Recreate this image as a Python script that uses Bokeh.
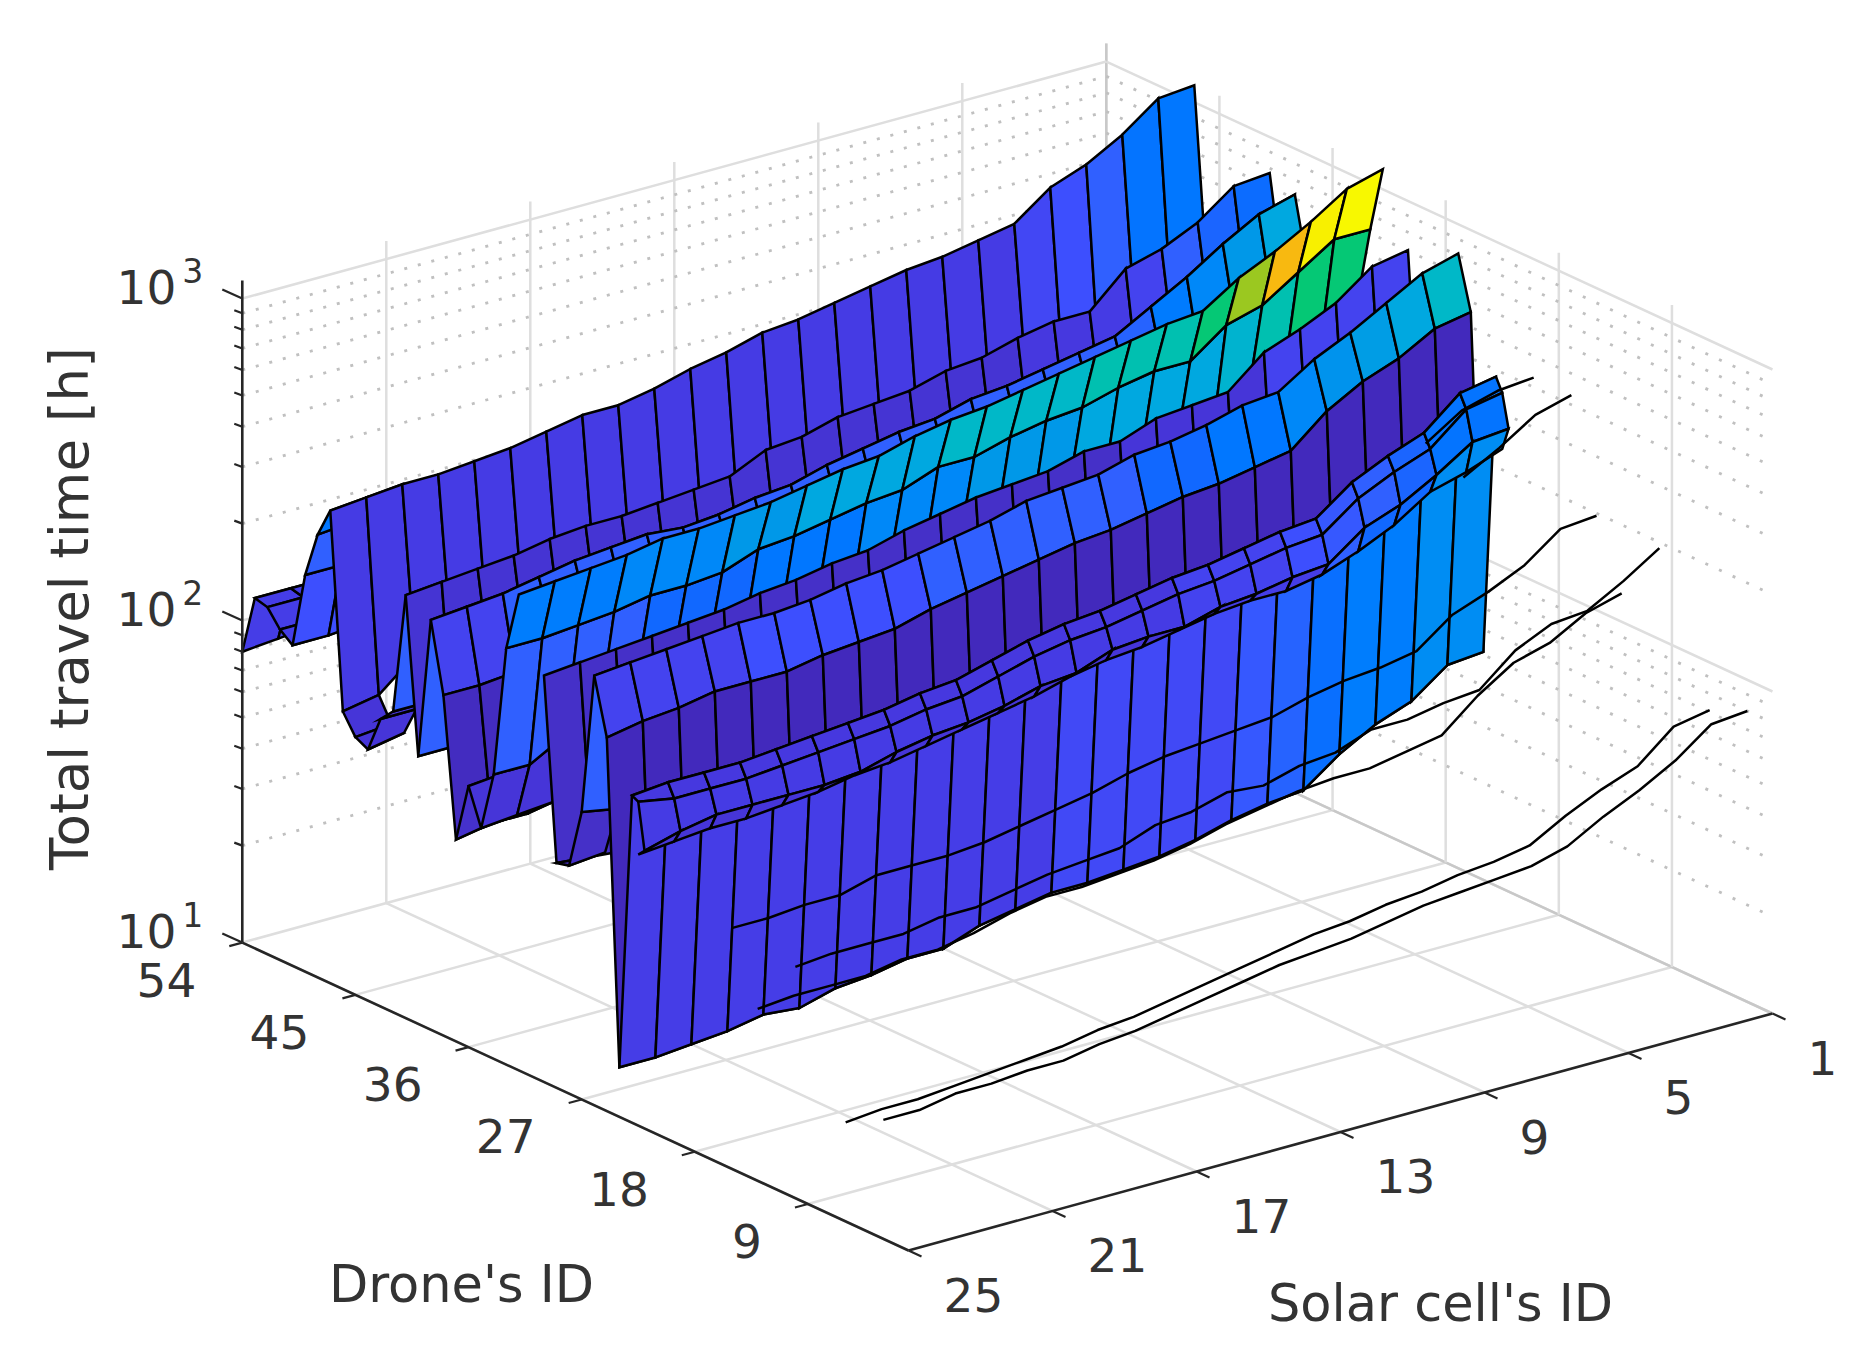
from math import pi, log10
import numpy as np
from bokeh.core.properties import value
from bokeh.embed import file_html
from bokeh.models import ColumnDataSource, LinearColorMapper
from bokeh.plotting import figure
from bokeh.resources import INLINE

_ = float("nan")
cell_ids = list(range(25, 0, -1))
cell_ticks = [25, 21, 17, 13, 9, 5, 1]
drone_ticks = [54, 45, 36, 27, 18, 9]
z_ticks = [10, 100, 1000]
z_labels = ["10", "10", "10"]
z_exps = ["1", "2", "3"]
xlabel_cell = "Solar cell's ID"
xlabel_drone = "Drone's ID"
zlabel = "Total travel time [h]"

# log10(total travel time), listed from solar cell 25 down to solar cell 1
d54 = [1.88, 1.89, 1.90] + [_] * 22
d53 = [2.06, 2.06, 2.06] + [_] * 22
d52 = [2.05, 2.05, 2.05] + [_] * 22
d51 = [2.00, 2.00, 2.01] + [_] * 22
d50 = [1.97, 1.97, 1.98] + [_] * 22
d49 = [2.20, 2.20, 2.21] + [_] * 22
d48 = [2.34, 2.35, 2.36] + [_] * 22
d47 = [2.43, 2.44, 2.45, 2.45, 2.46, 2.47, 2.49, 2.51, 2.51, 2.53, 2.56, 2.58, 2.61, 2.62, 2.64, 2.66, 2.68, 2.69, 2.71, 2.73, 2.81, 2.85, 2.91, 2.99, 3.00]
d46 = [1.84, 1.86, 1.95, 1.98, 1.99, 2.00, 2.03, 2.04, 2.04, 2.05, 2.06, 2.07, 2.12, 2.13, 2.16, 2.17, 2.18, 2.21, 2.22, 2.25, 2.27, 2.27, 2.37, 2.40, 2.45]
d45 = [1.78, 1.79] + [_] * 23
d44 = [1.76, 1.78] + [_] * 23
d43 = [1.87, 1.87] + [_] * 23
d42 = [1.91, 1.91] + [_] * 23
d41 = [2.28, 2.29, 2.30, 2.31, 2.33, 2.34, 2.34, 2.35, 2.36, 2.37, 2.42, 2.43, 2.46, 2.47, 2.48, 2.51, 2.52, 2.55, 2.57, 2.57, 2.67, 2.70, 2.75, 2.83, 2.84]
d40 = [1.81, 1.81, 2.01, 2.03, 2.05, 2.06, 2.07, 2.06, 2.07, 2.09, 2.10, 2.13, 2.15, 2.17, 2.18, 2.21, 2.22, 2.24, 2.26, 2.28, 2.34, 2.40, 2.47, 2.53, 2.56]
d39 = [2.24, 2.25, 2.26, 2.28, 2.30, 2.31, 2.32, 2.31, 2.32, 2.34, 2.35, 2.38, 2.40, 2.42, 2.43, 2.46, 2.47, 2.49, 2.51, 2.53, 2.59, 2.65, 2.72, 2.78, 2.81]
d38 = [2.03, 2.03, 2.04, 2.15, 2.16, 2.17, 2.19, 2.19, 2.20, 2.21, 2.23, 2.25, 2.26, 2.29, 2.31, 2.32, 2.34, 2.36, 2.38, 2.40, 2.42, 2.43, 2.50, 2.55, 2.61]
d37 = [1.61, 1.63, 1.63, 1.65] + [_] * 21
d36 = [1.79, 1.80, 1.81, 1.82] + [_] * 21
d35 = [1.68, 1.69, 1.70, 1.70] + [_] * 21
d34 = [1.86, 1.86, 1.92, 2.00, 2.05, 2.07, 2.08, 2.10, 2.11, 2.13, 2.14, 2.17, 2.19, 2.21, 2.22, 2.23, 2.26, 2.26, 2.30, 2.31, 2.32, 2.41, 2.45, 2.50, 2.58]
d33 = [2.26, 2.26, 2.27, 2.28, 2.30, 2.30, 2.31, 2.35, 2.36, 2.38, 2.40, 2.41, 2.45, 2.45, 2.48, 2.50, 2.51, 2.54, 2.56, 2.56, 2.64, 2.67, 2.74, 2.81, 2.81]
d32 = [2.44, 2.45, 2.46, 2.47, 2.49, 2.49, 2.50, 2.51, 2.53, 2.55, 2.56, 2.59, 2.61, 2.62, 2.64, 2.66, 2.68, 2.70, 2.72, 2.73, 2.80, 2.85, 2.91, 2.98, 3.01]
d30 = [2.23, 2.24, 2.25, 2.26, 2.27, 2.28, 2.30, 2.31, 2.33, 2.34, 2.37, 2.39, 2.41, 2.42, 2.43, 2.46, 2.46, 2.50, 2.51, 2.52, 2.61, 2.65, 2.70, 2.78, 2.80]
d29 = [1.68, 1.67, 1.66, 1.67, 1.69, 1.68, 1.71, 1.72, 1.74, 1.74, 1.78, 1.80, 1.82, 1.82, 1.83, 1.84, 1.86, 1.89, 1.91, 1.92, 2.00, 2.06, 2.10, 2.18, 2.19]
d28 = [1.69, 1.70] + [_] * 23
d27 = [1.87, 1.85] + [_] * 23
d26 = [2.30, 2.31, 2.32, 2.33, 2.34, 2.34, 2.35, 2.37, 2.38, 2.40, 2.42, 2.44, 2.47, 2.48, 2.49, 2.52, 2.53, 2.55, 2.58, 2.59, 2.66, 2.71, 2.77, 2.83, 2.86]
d25 = [2.13, 2.15, 2.16, 2.18, 2.18, 2.18, 2.20, 2.21, 2.22, 2.25, 2.27, 2.29, 2.31, 2.33, 2.34, 2.36, 2.38, 2.39, 2.41, 2.43, 2.52, 2.58, 2.62, 2.68, 2.70]
d24 = [1.15, 1.15, 1.16, 1.17, 1.19, 1.18, 1.21, 1.22, 1.24, 1.24, 1.28, 1.30, 1.32, 1.32, 1.33, 1.34, 1.36, 1.39, 1.41, 1.42, 1.50, 1.56, 1.60, 1.68, 1.69]
d23 = [1.99, 2.00, 2.00, 2.00, 2.01, 2.02, 2.03, 2.04, 2.06, 2.07, 2.10, 2.13, 2.15, 2.16, 2.18, 2.20, 2.21, 2.23, 2.25, 2.26, 2.34, 2.39, 2.43, 2.52, 2.54]
d23b = [1.98, 1.96, 1.96, 1.96, 1.97, 1.98, 1.99, 2.00, 2.02, 2.03, 2.06, 2.09, 2.11, 2.12, 2.14, 2.16, 2.17, 2.19, 2.21, 2.22, 2.30, 2.35, 2.39, 2.48, 2.50]
d22 = [1.84, 1.87, 1.89, 1.89, 1.89, 1.89, 1.90, 1.93, 1.95, 1.96, 1.98, 2.01, 2.02, 2.06, 2.07, 2.07, 2.10, 2.11, 2.13, 2.14, 2.22, 2.26, 2.32, 2.39, 2.40]
d22b = [1.82, 1.83, 1.84, 1.84, 1.85, 1.86, 1.88, 1.89, 1.91, 1.93, 1.95, 1.97, 2.00, 2.02, 2.03, 2.05, 2.07, 2.08, 2.08, 2.10, 2.14, 2.19, 2.26, 2.29, 2.33]
d20 = [_] * 21 + [2.48, 2.55, 2.58, 2.59]
d17 = [_] * 21 + [2.43, 2.49, 2.56, 2.59]
d15 = [1.73, 1.73, 1.74, 1.74, 1.77, 1.77, 1.77, 1.78, 1.80, 1.82, 1.84, 1.87, 1.89, 1.90, 1.91, 1.92, 1.95, 1.97, 1.98, 2.00, 2.08, 2.12, 2.17, 2.25, 2.26]
d13 = [1.52, 1.53, 1.53, 1.53, 1.55, 1.55, 1.57, 1.60, 1.62, 1.62, 1.63, 1.64, 1.66, 1.69, 1.71, 1.73, 1.74, 1.74, 1.76, 1.78, 1.87, 1.94, 1.97, 2.03, 2.06]
d10 = [1.70, 1.71, 1.71, 1.71, 1.73, 1.73, 1.75, 1.77, 1.78, 1.79, 1.83, 1.84, 1.87, 1.86, 1.89, 1.90, 1.94, 1.94, 1.96, 1.97, 2.06, 2.11, 2.12, 2.18, 2.25]
d06 = [1.30, 1.31, 1.31, 1.32, 1.33, 1.34, 1.35, 1.37, 1.38, 1.40, 1.42, 1.44, 1.46, 1.48, 1.49, 1.51, 1.52, 1.54, 1.55, 1.57, 1.63, 1.68, 1.72, 1.81, 1.83]
d03 = [1.36, 1.36, 1.38, 1.38, 1.39, 1.39, 1.41, 1.42, 1.44, 1.46, 1.48, 1.50, 1.51, 1.52, 1.54, 1.56, 1.57, 1.58, 1.59, 1.62, 1.68, 1.73, 1.79, 1.87, 1.88]

# colour value of each mesh cell, per band between two neighbouring rows
c_back = [.10] * 24
c_4746 = [.09] * 19 + [.13, .16, .20, .29, .30]
c_4140 = [.06] * 17 + [.08, .08, .09, .12, .20, .24, .27]
c_4039 = [.20] * 24
c_3938 = [.12, .12] + [.20] * 17 + [.22, .31, .36, .42, .48]
c_left = [.07] * 24
c_3433 = [.20] * 4 + [.26] * 3 + [.30] * 3 + [.36] * 3 + [.42] * 3 + [.48] * 4 + [.52, .60, .68, .68]
c_3332 = [.32] * 3 + [.36] * 3 + [.42] * 2 + [.48] * 4 + [.54] * 4 + [.60] * 3 + [.68, .76, .88, .98, 1.0]
c_3029 = [.04] * 16 + [.07] * 4 + [.12] * 4
c_2726 = [.20] * 24
c_2625 = [.12] * 4 + [.16] * 5 + [.20] * 6 + [.26] * 2 + [.30] * 2 + [.36, .40, .44, .48, .54]
c_2524 = [.02] * 24
c_2423 = [.10] * 12 + [.14] * 5 + [.18, .22, .28, .32, .32, .38, .38]
c_t1 = [.08] * 15 + [.12] * 3 + [.16, .18, .20, .24, .29, .29]
c_t2 = [.09] * 15 + [.12] * 3 + [.16, .18, .20, .24, .29, .29]
c_t3 = [.07] * 16 + [.10] * 3 + [.20, .26, .26, .38, .38]

bands = [
    (54, d54, 53, d53, c_back), (53, d53, 52, d52, c_back), (52, d52, 51, d51, c_back),
    (51, d51, 50, d50, c_back), (50, d50, 49, d49, [.16] * 24), (49, d49, 48, d48, [.20] * 24),
    (48, d48, 47, d47, [.30] * 24), (47, d47, 46, d46, c_4746),
    (46, d46, 45, d45, c_left), (45, d45, 44, d44, c_left), (44, d44, 43, d43, c_left),
    (43, d43, 42, d42, c_left), (42, d42, 41, d41, [.20] * 24),
    (41, d41, 40, d40, c_4140), (40, d40, 39, d39, c_4039), (39, d39, 38, d38, c_3938),
    (38, d38, 37, d37, [.03] * 24), (37, d37, 36, d36, [.05] * 24), (36, d36, 35, d35, c_left),
    (35, d35, 34, d34, c_left), (34, d34, 33, d33, c_3433), (33, d33, 32, d32, c_3332),
    (30, d30, 29, d29, c_3029), (29, d29, 28, d28, [.03] * 24), (28, d28, 27, d27, [.04] * 24),
    (27, d27, 26, d26, c_2726), (26, d26, 25, d25, c_2625), (25, d25, 24, d24, c_2524),
    (24, d24, 23, d23, c_2423), (23, d23, 22.5, d23b, c_t1), (22.5, d23b, 22, d22, c_t2),
    (22, d22, 22.5, d22b, c_t3),
]
extra_rows = [(20, d20), (17, d17), (15, d15), (13, d13), (10, d10), (6, d06), (3, d03)]

palette_stops = [0, .04, .08, .12, .16, .20, .26, .30, .36, .42, .48, .54, .60, .68, .76, .88, .96, 1]
palette_cols = ["3f22b0", "4530c8", "4638e0", "4444f0", "3c50ff", "3060ff", "1068ff", "0078ff", "0088f8",
                "0098e8", "00a8e0", "00b8c8", "00c0b0", "00c878", "9ac820", "f8b810", "f8e800", "f8f800"]
rgb = np.array([[int(h[i:i + 2], 16) for i in (0, 2, 4)] for h in palette_cols], float)
grid256 = np.linspace(0, 1, 256)
palette = ["#%02x%02x%02x" % tuple(int(round(np.interp(t, palette_stops, rgb[:, j]))) for j in range(3)) for t in grid256]
mapper = LinearColorMapper(palette=palette, low=0, high=1)

# orthographic view of the MATLAB box
ORX, ORY = 908.0, 1250.0
CX, CY = 36.0, 9.875
DX, DY = 12.57, 5.81
DEC = 322.0
READ = 330.5 / 322.0
MESH_W = 2.5


def hours(v):
    return 10 ** (1 + (v - 1) * READ)


def px(cell, drone):
    return ORX + (25 - cell) * CX - (drone - 1) * DX


def py(cell, drone, h=10.0):
    return ORY - (25 - cell) * CY - (drone - 1) * DY - (log10(h) - 1) * DEC


p = figure(width=1855, height=1342, x_range=(0, 1855), y_range=(1342, 0), output_backend="svg",
           toolbar_location=None, min_border=0, outline_line_color=None, background_fill_color="white")
p.axis.visible = False
p.grid.visible = False

GRID = "#dedede"
MINOR = "#c0c0c0"
AXC = "#262626"
TXT = "#333333"


def seg(a, b, **kw):
    p.line([a[0], b[0]], [a[1], b[1]], **kw)


# floor
for c in cell_ticks:
    seg((px(c, 1), py(c, 1)), (px(c, 54), py(c, 54)), line_color=GRID, line_width=2.5)
for d in drone_ticks:
    seg((px(25, d), py(25, d)), (px(1, d), py(1, d)), line_color=GRID, line_width=2.5)
seg((px(1, 1), py(1, 1)), (px(1, 54), py(1, 54)), line_color="#c8c8c8", line_width=2.5)

# walls
ztop = 1138.0
for c in cell_ticks[1:]:
    seg((px(c, 54), py(c, 54)), (px(c, 54), py(c, 54, ztop)), line_color=GRID, line_width=2.5)
for d in drone_ticks[1:]:
    seg((px(1, d), py(1, d)), (px(1, d), py(1, d, ztop)), line_color=GRID, line_width=2.5)
seg((px(1, 54), py(1, 54)), (px(1, 54), py(1, 54, ztop)), line_color="#c8c8c8", line_width=2.5)
for z in z_ticks[1:]:
    seg((px(25, 54), py(25, 54, z)), (px(1, 54), py(1, 54, z)), line_color=GRID, line_width=2.5)
    seg((px(1, 54), py(1, 54, z)), (px(1, 1), py(1, 1, z)), line_color=GRID, line_width=2.5)
minor = [m * b for b in (10, 100) for m in range(2, 10)]
for z in minor:
    seg((px(25, 54), py(25, 54, z)), (px(1, 54), py(1, 54, z)), line_color=MINOR, line_width=2.8, line_dash="3 11")
    seg((px(1, 54), py(1, 54, z)), (px(1, 1), py(1, 1, z)), line_color=MINOR, line_width=2.8, line_dash="3 12")

# rows lying on their own in front of the mesh; the two floor rows go first
for d, vals in extra_rows[-2:]:
    hs = [hours(v) for v in vals]
    p.line([px(c, d) for c in cell_ids], [py(c, d, h) for c, h in zip(cell_ids, hs)], line_color="black", line_width=MESH_W)

# surface
xs, ys, cs = [], [], []
for da, va, db, vb, col in bands:
    for k in range(24):
        vals = (va[k], va[k + 1], vb[k + 1], vb[k])
        if any(v != v for v in vals):
            continue
        c0, c1 = cell_ids[k], cell_ids[k + 1]
        cr = (c0, c1, c1, c0)
        dr = (da, da, db, db)
        xs.append([px(c, d) for c, d in zip(cr, dr)])
        ys.append([py(c, d, hours(v)) for c, d, v in zip(cr, dr, vals)])
        cs.append(col[k])
src = ColumnDataSource(dict(xs=xs, ys=ys, c=cs))
p.patches("xs", "ys", source=src, fill_color={"field": "c", "transform": mapper}, fill_alpha=1,
          line_color="black", line_width=MESH_W, line_join="miter")

for d, vals in extra_rows[:-2]:
    pts = [(px(c, d), py(c, d, hours(v))) for c, v in zip(cell_ids, vals) if v == v]
    p.line([a for a, b in pts], [b for a, b in pts], line_color="black", line_width=MESH_W)

# axes
seg((px(25, 54), py(25, 54)), (px(25, 54), py(25, 54, ztop)), line_color=AXC, line_width=2.6)
seg((px(25, 54), py(25, 54)), (px(25, 1), py(25, 1)), line_color=AXC, line_width=2.6)
seg((px(25, 1), py(25, 1)), (px(1, 1), py(1, 1)), line_color=AXC, line_width=2.6)

for c in cell_ticks:
    a = (px(c, 1), py(c, 1))
    seg(a, (a[0] + 13, a[1] + 6), line_color=AXC, line_width=2.2)
for d in drone_ticks:
    a = (px(25, d), py(25, d))
    seg(a, (a[0] - 13, a[1] + 3.5), line_color=AXC, line_width=2.2)
for z in z_ticks:
    a = (px(25, 54), py(25, 54, z))
    seg(a, (a[0] - 20, a[1] - 9), line_color=AXC, line_width=2.2)
for z in minor:
    a = (px(25, 54), py(25, 54, z))
    seg(a, (a[0] - 8, a[1] - 3), line_color=AXC, line_width=2.2)

FONT = value("DejaVu Sans")
p.text([px(c, 1) + 35 for c in cell_ticks], [py(c, 1) + 44 for c in cell_ticks], text=[str(c) for c in cell_ticks],
       text_font=FONT, text_font_size="47px", text_color=TXT, text_align="left", text_baseline="middle")
p.text([px(25, d) - 46 for d in drone_ticks], [py(25, d) + 37 for d in drone_ticks], text=[str(d) for d in drone_ticks],
       text_font=FONT, text_font_size="47px", text_color=TXT, text_align="right", text_baseline="middle")
zx = px(25, 54)
p.text([zx - 66] * 3, [py(25, 54, z) - 12 for z in z_ticks], text=z_labels, text_font=FONT, text_font_size="47px",
       text_color=TXT, text_align="right", text_baseline="middle")
p.text([zx - 60] * 3, [py(25, 54, z) - 28 for z in z_ticks], text=z_exps, text_font=FONT, text_font_size="33px",
       text_color=TXT, text_align="left", text_baseline="middle")
p.text([461], [1284], text=[xlabel_drone], text_font=FONT, text_font_size="51px", text_color=TXT,
       text_align="center", text_baseline="middle")
p.text([1440], [1303], text=[xlabel_cell], text_font=FONT, text_font_size="51px", text_color=TXT,
       text_align="center", text_baseline="middle")
p.text([69], [608], text=[zlabel], angle=pi / 2, text_font=FONT, text_font_size="53px", text_color=TXT,
       text_align="center", text_baseline="middle")

open("out.html", "w").write(file_html(p, INLINE))
